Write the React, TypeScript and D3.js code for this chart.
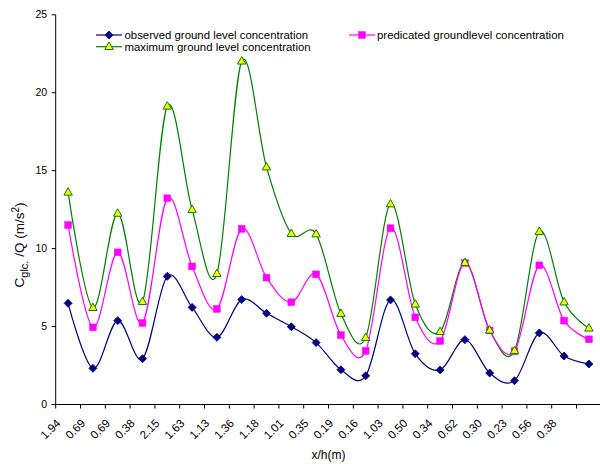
import React from "react";
import * as d3 from "d3";

const categories = ["1.94","0.69","0.69","0.38","2.15","1.63","1.13","1.36","1.18","1.01","0.35","0.19","0.16","1.03","0.50","0.34","0.62","0.30","0.23","0.56","0.38",""];
const observed = [6.49,2.32,5.38,2.94,8.22,6.23,4.31,6.73,5.85,4.99,3.97,2.23,1.84,6.71,3.25,2.22,4.16,2.02,1.53,4.59,3.11,2.60];
const predicted = [11.51,4.95,9.76,5.23,13.23,8.86,6.13,11.27,8.14,6.56,8.35,4.45,3.44,11.31,5.59,4.07,9.08,4.75,3.42,8.93,5.38,4.18];
const maximum = [13.61,6.21,12.26,6.59,19.13,12.50,8.39,22.02,15.23,10.96,10.93,5.83,4.29,12.86,6.43,4.67,9.10,4.76,3.45,11.09,6.57,4.89];
const yTicks = [0,5,10,15,20,25];

const W = 600, H = 464;
const left = 55.7, right = 601.3, top = 14.8, bottom = 404.5;

export default function App() {
  const x = d3.scaleBand<number>().domain(d3.range(categories.length)).range([left, right]).padding(0);
  const y = d3.scaleLinear().domain([0, 25]).range([bottom, top]);
  const cx = (i: number) => (x(i) as number) + x.bandwidth() / 2;
  const line = d3.line<number>().x((_, i) => cx(i)).y(d => y(d)).curve(d3.curveCardinal.tension(0));
  const font = "Liberation Sans, Arial, sans-serif";

  const diamond = (px: number, py: number, k: number) => (
    <path key={k} d={`M${px},${py - 4}L${px + 4},${py}L${px},${py + 4}L${px - 4},${py}Z`} fill="#000080" stroke="#000080" strokeWidth={0.8} />
  );
  const square = (px: number, py: number, k: number) => (
    <rect key={k} x={px - 3.4} y={py - 3.4} width={6.8} height={6.8} fill="#FF00FF" stroke="#FF00FF" strokeWidth={0.5} />
  );
  const tri = (px: number, py: number, k: number) => (
    <path key={k} d={`M${px},${py - 4.6}L${px + 4.2},${py + 2.8}L${px - 4.2},${py + 2.8}Z`} fill="#FFFF00" stroke="#008000" strokeWidth={1} />
  );

  const ticksX = d3.range(categories.length + 1).map(i => left + i * x.bandwidth());

  return (
    <svg width={W} height={H} style={{ position: "absolute", left: 0, top: 0, background: "#fff" }} fontFamily={font}>
      <rect x={0} y={0} width={W} height={H} fill="#fff" />
      {/* axes */}
      <line x1={left} y1={top} x2={left} y2={bottom} stroke="#000" strokeWidth={1} />
      <line x1={left - 4} y1={bottom} x2={right} y2={bottom} stroke="#000" strokeWidth={1} />
      {yTicks.map(t => (
        <g key={t}>
          <line x1={left - 4} x2={left} y1={y(t)} y2={y(t)} stroke="#000" />
          <text x={left - 8.5} y={y(t)} dy="0.35em" textAnchor="end" fontSize={10.5}>{t}</text>
        </g>
      ))}
      {ticksX.map((tx, i) => (
        <line key={i} x1={tx} x2={tx} y1={bottom} y2={bottom + 4} stroke="#000" />
      ))}
      {categories.map((c, i) => (
        <text key={i} transform={`translate(${left + i * x.bandwidth() + 5.5},${bottom + 19.5}) rotate(-45)`} textAnchor="end" fontSize={11.5}>{c}</text>
      ))}
      <text x={(left + right) / 2} y={459} textAnchor="middle" fontSize={12}>x/h(m)</text>
      <text transform={`translate(24,245) rotate(-90)`} textAnchor="middle" fontSize={13.5}>
        C<tspan fontSize={11} dy={3.5}>glc.</tspan><tspan dy={-3.5}> /Q (m/s</tspan><tspan fontSize={10} dy={-5}>2</tspan><tspan dy={5}>)</tspan>
      </text>
      {/* series */}
      <path d={line(maximum) || ""} fill="none" stroke="#008000" strokeWidth={1.2} />
      <path d={line(predicted) || ""} fill="none" stroke="#FF00FF" strokeWidth={1.2} />
      <path d={line(observed) || ""} fill="none" stroke="#000080" strokeWidth={1.2} />
      {observed.map((v, i) => diamond(cx(i), y(v), i))}
      {predicted.map((v, i) => square(cx(i), y(v), i))}
      {maximum.map((v, i) => tri(cx(i), y(v), i))}
      {/* legend */}
      <g fontSize={11.4}>
        <line x1={96} x2={122} y1={35} y2={35} stroke="#000080" strokeWidth={1.2} />
        {diamond(109, 35, 0)}
        <text x={124.5} y={35} dy="0.35em">observed ground level concentration</text>
        <line x1={349} x2={375} y1={35} y2={35} stroke="#FF00FF" strokeWidth={1.2} />
        {square(362, 35, 0)}
        <text x={377} y={35} dy="0.35em">predicated groundlevel concentration</text>
        <line x1={96} x2={122} y1={46.7} y2={46.7} stroke="#008000" strokeWidth={1.2} />
        {tri(109, 46.7, 0)}
        <text x={124.5} y={46.7} dy="0.35em">maximum ground level concentration</text>
      </g>
    </svg>
  );
}
